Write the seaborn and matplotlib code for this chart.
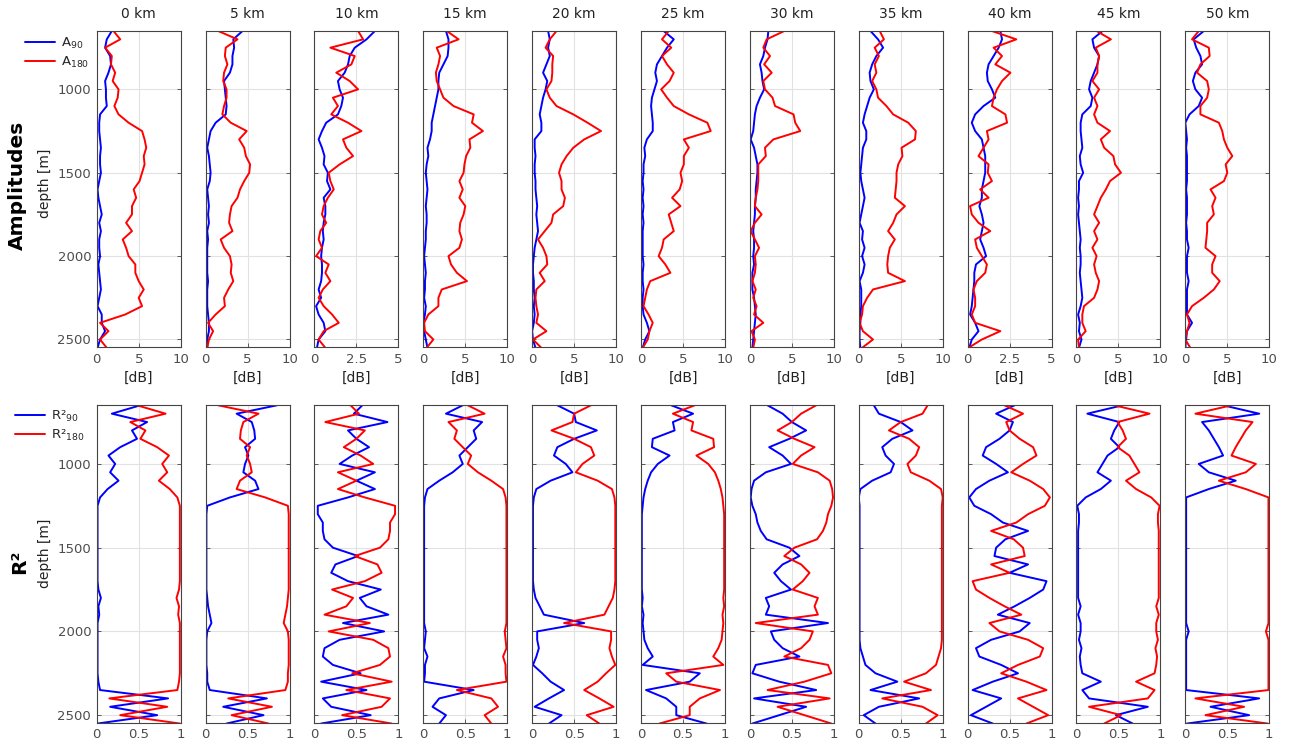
import matplotlib
matplotlib.use("Agg")
import matplotlib.pyplot as plt
import seaborn as sns

DEPTH = [650, 700, 750, 800, 850, 900, 950, 1000, 1050, 1100,
         1150, 1200, 1250, 1300, 1350, 1400, 1450, 1500, 1550, 1600,
         1650, 1700, 1750, 1800, 1850, 1900, 1950, 2000, 2050, 2100,
         2150, 2200, 2250, 2300, 2350, 2400, 2450, 2500, 2550]

PANELS = ["0 km", "5 km", "10 km", "15 km", "20 km", "25 km",
          "30 km", "35 km", "40 km", "45 km", "50 km"]
AMP_XMAX = [10, 10, 5, 10, 10, 10, 10, 10, 5, 10, 10]

# amplitudes [dB]
A90_00 = [1.8, 1.2, 1.0, 1.6, 1.7, 1.4, 1.0, 1.1, 1.1, 1.2, 0.4, 0.3, 0.3, 0.4, 0.5, 0.4, 0.4, 0.5, 0.3, 0.1,
          0.2, 0.4, 0.6, 0.3, 0.5, 0.3, 0.3, 0.4, 0.2, 0.3, 0.4, 0.5, 0.3, 0.1, 0.6, 0.6, 1.0, 0.4, 0.1]
A180_00 = [2.0, 2.8, 1.0, 1.8, 1.7, 2.2, 1.9, 2.6, 2.5, 2.1, 2.6, 3.8, 5.4, 5.7, 5.9, 5.6, 5.7, 5.4, 5.1, 4.4,
           4.7, 4.2, 4.2, 3.5, 4.2, 3.1, 3.5, 3.8, 4.6, 4.6, 5.0, 5.6, 5.0, 5.4, 3.4, 0.4, 1.4, 0.4, 1.2]
A90_05 = [4.4, 3.3, 3.4, 3.2, 3.2, 2.9, 2.2, 2.3, 2.4, 2.5, 2.4, 1.2, 0.6, 0.4, 0.2, 0.4, 0.5, 0.6, 0.5, 0.2,
          0.3, 0.4, 0.3, 0.4, 0.2, 0.3, 0.2, 0.2, 0.2, 0.2, 0.3, 0.2, 0.2, 0.2, 0.3, 0.4, 0.4, 0.2, 0.2]
A180_05 = [1.5, 3.8, 2.4, 2.3, 2.6, 2.2, 2.1, 2.5, 2.5, 2.2, 2.0, 3.0, 4.9, 4.0, 4.6, 4.8, 5.3, 5.2, 4.6, 4.1,
           3.8, 3.1, 2.9, 2.8, 3.2, 1.8, 2.2, 2.9, 3.1, 3.0, 3.3, 2.7, 2.2, 2.3, 1.2, 0.3, 0.9, 0.4, 0.2]
A90_10 = [3.6, 3.1, 2.4, 2.1, 2.0, 1.8, 1.4, 1.5, 1.7, 1.6, 1.4, 0.7, 0.45, 0.25, 0.45, 0.6, 0.55, 0.8, 0.75, 0.95,
          0.55, 0.65, 0.65, 0.55, 0.5, 0.55, 0.45, 0.4, 0.45, 0.45, 0.4, 0.25, 0.4, 0.1, 0.25, 0.55, 0.65, 0.25, 0.15]
A180_10 = [2.6, 2.9, 0.95, 2.4, 2.2, 1.3, 2.1, 2.6, 1.1, 1.4, 1.0, 2.0, 2.8, 1.7, 1.9, 2.3, 1.5, 0.85, 0.95, 1.15,
           0.8, 0.55, 0.45, 0.7, 0.35, 0.25, 0.45, 0.1, 0.85, 0.65, 0.95, 0.5, 0.25, 0.55, 1.05, 1.45, 0.55, 0.25, 0.65]
A90_15 = [2.7, 3.0, 3.0, 2.9, 2.4, 1.9, 1.8, 1.8, 1.6, 1.4, 1.2, 1.0, 1.0, 0.8, 0.5, 0.6, 0.4, 0.3, 0.4, 0.5,
          0.4, 0.3, 0.4, 0.4, 0.3, 0.3, 0.2, 0.1, 0.2, 0.3, 0.2, 0.2, 0.1, 0.3, 0.2, 0.0, 0.1, 0.3, 0.5]
A180_15 = [2.8, 4.2, 1.6, 2.0, 1.8, 1.5, 1.6, 2.0, 2.4, 3.6, 6.0, 5.8, 7.1, 5.5, 5.6, 5.1, 4.9, 4.8, 4.3, 4.7,
           4.3, 5.0, 4.8, 4.4, 4.3, 4.6, 4.3, 3.0, 3.3, 4.0, 5.2, 2.2, 1.8, 1.8, 0.6, 0.1, 0.2, 1.2, 0.4]
A90_20 = [1.9, 2.1, 1.9, 2.1, 1.7, 1.3, 1.8, 1.6, 1.3, 1.1, 0.9, 1.1, 1.1, 0.3, 0.3, 0.4, 0.3, 0.3, 0.4, 0.4,
          0.5, 0.6, 0.5, 0.6, 0.7, 0.5, 0.3, 0.2, 0.1, 0.1, 0.2, 0.2, 0.3, 0.2, 0.3, 0.2, 0.0, 0.1, 0.4]
A180_20 = [2.9, 2.1, 1.6, 2.5, 2.4, 2.4, 2.3, 1.7, 2.1, 2.9, 4.9, 6.6, 8.2, 6.2, 4.9, 4.1, 3.5, 3.2, 3.5, 3.5,
           3.9, 3.7, 2.5, 2.3, 1.5, 0.7, 1.3, 1.7, 1.8, 0.9, 1.5, 0.5, 0.4, 0.5, 0.7, 0.5, 1.7, 0.1, 1.1]
A90_25 = [2.7, 3.9, 3.1, 2.5, 1.9, 1.7, 1.9, 1.6, 1.3, 1.2, 1.3, 1.4, 1.4, 0.7, 0.4, 0.5, 0.3, 0.3, 0.2, 0.3,
          0.2, 0.3, 0.2, 0.3, 0.2, 0.2, 0.2, 0.2, 0.3, 0.2, 0.2, 0.3, 0.2, 0.2, 0.3, 0.7, 1.0, 0.5, 0.2]
A180_25 = [3.3, 2.5, 3.6, 2.5, 3.1, 3.9, 3.4, 2.4, 3.1, 3.9, 5.7, 7.9, 8.3, 5.1, 5.7, 5.1, 5.1, 4.7, 4.9, 4.6,
           3.7, 4.7, 3.3, 3.6, 3.9, 2.7, 2.5, 2.1, 2.9, 3.5, 1.1, 0.7, 0.5, 0.3, 0.9, 1.4, 1.0, 0.8, 0.2]
A90_30 = [2.2, 2.1, 1.8, 1.6, 1.2, 1.4, 1.5, 1.7, 1.2, 0.8, 0.6, 0.5, 0.4, 0.1, 0.5, 0.7, 0.9, 0.9, 0.8, 0.7,
          0.7, 0.6, 0.6, 0.5, 0.4, 0.5, 0.5, 0.4, 0.5, 0.3, 0.3, 0.3, 0.5, 0.6, 0.7, 0.6, 0.5, 0.4, 0.3]
A180_30 = [4.1, 2.0, 1.6, 2.4, 1.7, 2.6, 1.6, 1.8, 2.7, 3.0, 5.2, 5.4, 6.0, 2.8, 1.8, 1.9, 1.0, 1.0, 1.0, 0.9,
           0.7, 0.6, 1.4, 0.6, 0.1, 0.6, 1.1, 0.6, 0.7, 0.6, 0.3, 0.7, 0.4, 0.8, 0.5, 1.6, 0.2, 0.6, 0.4]
A90_35 = [1.4, 2.3, 2.9, 2.1, 1.6, 1.3, 1.4, 1.8, 1.3, 1.0, 0.7, 0.5, 0.9, 0.9, 0.5, 0.4, 0.3, 0.2, 0.3, 0.5,
          0.7, 0.5, 0.3, 0.1, 0.5, 0.4, 0.7, 0.4, 0.7, 0.5, 0.1, 0.3, 0.3, 0.3, 0.2, 0.2, 0.1, 0.1, 0.2]
A180_35 = [2.5, 3.0, 1.9, 2.4, 1.9, 2.1, 1.6, 2.1, 2.3, 3.3, 4.1, 5.9, 6.8, 6.7, 5.1, 5.2, 4.7, 4.5, 4.5, 4.4,
           4.3, 5.5, 4.5, 4.1, 3.5, 4.3, 3.7, 3.5, 3.4, 3.5, 5.5, 1.7, 1.0, 0.5, 0.4, 0.1, 0.5, 1.7, 0.4]
A90_40 = [1.95, 2.05, 1.85, 1.55, 1.25, 1.15, 1.2, 1.45, 1.65, 0.95, 0.45, 0.25, 0.45, 0.85, 0.95, 1.05, 1.05, 1.05, 0.95, 0.85,
          0.85, 0.7, 0.85, 0.95, 0.85, 0.75, 0.95, 1.1, 0.5, 0.4, 0.4, 0.35, 0.3, 0.25, 0.15, 0.45, 0.65, 0.25, 0.1]
A180_40 = [1.45, 2.9, 1.55, 2.05, 1.65, 2.55, 2.05, 1.75, 1.55, 1.45, 2.25, 2.35, 1.15, 1.25, 0.95, 0.65, 1.25, 1.2, 1.45, 0.75,
           1.25, 0.15, 0.25, 0.65, 1.35, 0.45, 0.55, 0.85, 1.15, 1.05, 0.55, 0.35, 0.45, 0.45, 0.25, 0.45, 1.95, 0.85, 0.05]
A90_45 = [3.1, 1.9, 2.1, 2.7, 2.5, 2.1, 1.7, 1.5, 1.9, 1.7, 0.7, 0.5, 0.5, 0.6, 0.7, 0.4, 0.5, 0.8, 0.3, 0.3,
          0.2, 0.3, 0.2, 0.3, 0.4, 0.5, 0.4, 0.5, 0.5, 0.4, 0.5, 0.6, 0.7, 0.5, 0.2, 0.4, 0.3, 0.6, 0.3]
A180_45 = [2.4, 4.1, 2.3, 2.7, 2.5, 2.5, 1.9, 2.7, 2.1, 2.5, 2.1, 2.5, 4.0, 2.9, 3.3, 4.4, 4.6, 5.3, 4.0, 3.5,
           2.9, 2.5, 2.1, 2.7, 2.1, 2.5, 1.9, 2.4, 2.1, 2.3, 2.7, 2.5, 2.1, 0.9, 0.7, 0.7, 1.1, 0.2, 0.3]
A90_50 = [2.2, 1.0, 1.3, 1.8, 2.0, 1.2, 0.9, 1.2, 2.0, 1.6, 0.5, 0.0, 0.1, 0.2, 0.1, 0.2, 0.2, 0.2, 0.2, 0.1,
          0.2, 0.2, 0.2, 0.1, 0.2, 0.2, 0.4, 0.2, 0.2, 0.2, 0.4, 0.2, 0.2, 0.2, 0.2, 0.8, 0.2, 0.1, 0.0]
A180_50 = [1.6, 0.8, 2.8, 2.9, 1.8, 1.4, 2.6, 2.8, 2.6, 1.8, 1.8, 4.0, 4.4, 4.6, 5.0, 5.6, 4.8, 5.0, 4.6, 3.0,
           3.6, 3.2, 3.4, 2.6, 2.6, 2.5, 2.4, 3.6, 3.2, 3.2, 4.1, 3.4, 2.2, 0.8, 0.2, 0.5, 0.2, 0.0, 0.6]

# R^2 values
R90_00 = [0.52, 0.18, 0.60, 0.42, 0.48, 0.28, 0.14, 0.22, 0.16, 0.26, 0.13, 0.04, 0.01, 0.01, 0.01, 0.01, 0.01, 0.01, 0.01, 0.01,
          0.01, 0.01, 0.02, 0.05, 0.02, 0.03, 0.01, 0.01, 0.01, 0.01, 0.01, 0.01, 0.01, 0.02, 0.04, 0.85, 0.16, 0.72, 0.01]
R180_00 = [0.48, 0.82, 0.40, 0.58, 0.52, 0.72, 0.86, 0.78, 0.84, 0.74, 0.87, 0.96, 0.99, 0.99, 0.99, 0.99, 0.99, 0.99, 0.99, 0.99,
           0.99, 0.99, 0.98, 0.95, 0.98, 0.97, 0.99, 0.99, 0.99, 0.99, 0.99, 0.99, 0.99, 0.98, 0.96, 0.15, 0.84, 0.28, 0.99]
R90_05 = [0.85, 0.37, 0.55, 0.58, 0.59, 0.47, 0.51, 0.47, 0.45, 0.59, 0.63, 0.29, 0.02, 0.01, 0.01, 0.01, 0.01, 0.01, 0.01, 0.01,
          0.01, 0.01, 0.01, 0.02, 0.03, 0.05, 0.07, 0.02, 0.01, 0.01, 0.01, 0.01, 0.02, 0.02, 0.05, 0.73, 0.21, 0.69, 0.25]
R180_05 = [0.15, 0.63, 0.45, 0.42, 0.41, 0.53, 0.49, 0.53, 0.55, 0.41, 0.37, 0.71, 0.98, 0.99, 0.99, 0.99, 0.99, 0.99, 0.99, 0.99,
           0.99, 0.99, 0.99, 0.98, 0.97, 0.95, 0.93, 0.98, 0.99, 0.99, 0.99, 0.99, 0.98, 0.98, 0.95, 0.27, 0.79, 0.31, 0.75]
R90_10 = [0.57, 0.47, 0.87, 0.40, 0.50, 0.65, 0.45, 0.30, 0.72, 0.50, 0.72, 0.40, 0.04, 0.04, 0.10, 0.10, 0.12, 0.22, 0.52, 0.25,
          0.20, 0.40, 0.79, 0.54, 0.62, 0.88, 0.34, 0.83, 0.30, 0.12, 0.10, 0.22, 0.55, 0.08, 0.62, 0.10, 0.20, 0.67, 0.08]
R180_10 = [0.43, 0.53, 0.13, 0.60, 0.50, 0.35, 0.55, 0.70, 0.28, 0.50, 0.28, 0.60, 0.96, 0.96, 0.90, 0.90, 0.88, 0.78, 0.48, 0.75,
           0.80, 0.60, 0.21, 0.46, 0.38, 0.12, 0.66, 0.17, 0.70, 0.88, 0.90, 0.78, 0.45, 0.92, 0.38, 0.90, 0.80, 0.33, 0.92]
R90_15 = [0.47, 0.27, 0.70, 0.60, 0.63, 0.53, 0.43, 0.47, 0.35, 0.19, 0.05, 0.02, 0.01, 0.01, 0.01, 0.01, 0.01, 0.01, 0.01, 0.01,
          0.01, 0.01, 0.01, 0.01, 0.01, 0.01, 0.01, 0.03, 0.02, 0.01, 0.05, 0.02, 0.02, 0.01, 0.60, 0.19, 0.11, 0.27, 0.19]
R180_15 = [0.53, 0.73, 0.30, 0.40, 0.37, 0.47, 0.57, 0.53, 0.65, 0.81, 0.95, 0.98, 0.99, 0.99, 0.99, 0.99, 0.99, 0.99, 0.99, 0.99,
           0.99, 0.99, 0.99, 0.99, 0.99, 0.99, 0.99, 0.97, 0.98, 0.99, 0.95, 0.98, 0.98, 0.99, 0.40, 0.81, 0.89, 0.73, 0.81]
R90_20 = [0.30, 0.50, 0.52, 0.77, 0.50, 0.30, 0.26, 0.40, 0.48, 0.22, 0.05, 0.02, 0.01, 0.01, 0.01, 0.01, 0.01, 0.01, 0.01, 0.01,
          0.01, 0.01, 0.02, 0.04, 0.09, 0.14, 0.62, 0.06, 0.06, 0.08, 0.05, 0.01, 0.12, 0.22, 0.38, 0.20, 0.03, 0.35, 0.20]
R180_20 = [0.70, 0.50, 0.48, 0.23, 0.50, 0.70, 0.74, 0.60, 0.52, 0.78, 0.95, 0.98, 0.99, 0.99, 0.99, 0.99, 0.99, 0.99, 0.99, 0.99,
           0.99, 0.99, 0.98, 0.96, 0.91, 0.86, 0.38, 0.94, 0.94, 0.92, 0.95, 0.99, 0.88, 0.78, 0.62, 0.80, 0.97, 0.65, 0.80]
R90_25 = [0.36, 0.62, 0.38, 0.40, 0.14, 0.13, 0.34, 0.20, 0.12, 0.08, 0.05, 0.03, 0.02, 0.01, 0.01, 0.01, 0.01, 0.01, 0.01, 0.01,
          0.01, 0.01, 0.01, 0.02, 0.01, 0.03, 0.02, 0.03, 0.04, 0.08, 0.14, 0.02, 0.70, 0.58, 0.06, 0.30, 0.42, 0.42, 0.78]
R180_25 = [0.64, 0.38, 0.62, 0.60, 0.86, 0.87, 0.66, 0.80, 0.88, 0.92, 0.95, 0.97, 0.98, 0.99, 0.99, 0.99, 0.99, 0.99, 0.99, 0.99,
           0.99, 0.99, 0.99, 0.98, 0.99, 0.97, 0.98, 0.97, 0.96, 0.92, 0.86, 0.98, 0.30, 0.42, 0.94, 0.70, 0.58, 0.58, 0.22]
R90_30 = [0.21, 0.39, 0.50, 0.67, 0.47, 0.23, 0.39, 0.49, 0.19, 0.05, 0.02, 0.01, 0.03, 0.07, 0.09, 0.13, 0.20, 0.47, 0.59, 0.39,
          0.29, 0.37, 0.49, 0.19, 0.23, 0.19, 0.93, 0.25, 0.29, 0.39, 0.59, 0.07, 0.03, 0.35, 0.79, 0.05, 0.67, 0.35, 0.03]
R180_30 = [0.79, 0.61, 0.50, 0.33, 0.53, 0.77, 0.61, 0.51, 0.81, 0.95, 0.98, 0.99, 0.97, 0.93, 0.91, 0.87, 0.80, 0.53, 0.41, 0.61,
           0.71, 0.63, 0.51, 0.81, 0.77, 0.81, 0.07, 0.75, 0.71, 0.61, 0.41, 0.93, 0.97, 0.65, 0.21, 0.95, 0.33, 0.65, 0.97]
R90_35 = [0.18, 0.24, 0.50, 0.64, 0.40, 0.28, 0.32, 0.42, 0.38, 0.16, 0.02, 0.00, 0.01, 0.01, 0.01, 0.01, 0.01, 0.01, 0.01, 0.01,
          0.01, 0.01, 0.01, 0.01, 0.01, 0.01, 0.01, 0.01, 0.01, 0.02, 0.05, 0.08, 0.20, 0.46, 0.14, 0.72, 0.24, 0.06, 0.20]
R180_35 = [0.82, 0.76, 0.50, 0.36, 0.60, 0.72, 0.68, 0.58, 0.62, 0.84, 0.98, 1.00, 0.99, 0.99, 0.99, 0.99, 0.99, 0.99, 0.99, 0.99,
           0.99, 0.99, 0.99, 0.99, 0.99, 0.99, 0.99, 0.99, 0.99, 0.98, 0.95, 0.92, 0.80, 0.54, 0.86, 0.28, 0.76, 0.94, 0.80]
R90_40 = [0.56, 0.34, 0.54, 0.50, 0.38, 0.22, 0.18, 0.34, 0.48, 0.26, 0.10, 0.02, 0.08, 0.28, 0.42, 0.72, 0.45, 0.34, 0.32, 0.72,
          0.50, 0.94, 0.90, 0.74, 0.56, 0.36, 0.74, 0.62, 0.28, 0.10, 0.14, 0.40, 0.60, 0.30, 0.06, 0.40, 0.22, 0.04, 0.30]
R180_40 = [0.44, 0.66, 0.46, 0.50, 0.62, 0.78, 0.82, 0.66, 0.52, 0.74, 0.90, 0.98, 0.92, 0.72, 0.58, 0.28, 0.55, 0.66, 0.68, 0.28,
           0.50, 0.06, 0.10, 0.26, 0.44, 0.64, 0.26, 0.38, 0.72, 0.90, 0.86, 0.60, 0.40, 0.70, 0.94, 0.60, 0.78, 0.96, 0.70]
R90_45 = [0.55, 0.13, 0.51, 0.45, 0.41, 0.51, 0.37, 0.31, 0.25, 0.41, 0.29, 0.11, 0.01, 0.03, 0.03, 0.02, 0.02, 0.02, 0.02, 0.02,
          0.02, 0.02, 0.02, 0.02, 0.05, 0.02, 0.05, 0.05, 0.03, 0.06, 0.04, 0.05, 0.07, 0.29, 0.07, 0.15, 0.85, 0.47, 0.67]
R180_45 = [0.45, 0.87, 0.49, 0.55, 0.59, 0.49, 0.63, 0.69, 0.75, 0.59, 0.71, 0.89, 0.99, 0.97, 0.97, 0.98, 0.98, 0.98, 0.98, 0.98,
           0.98, 0.98, 0.98, 0.98, 0.95, 0.98, 0.95, 0.95, 0.97, 0.94, 0.96, 0.95, 0.93, 0.71, 0.93, 0.85, 0.15, 0.53, 0.33]
R90_50 = [0.45, 0.88, 0.20, 0.28, 0.34, 0.40, 0.45, 0.16, 0.28, 0.60, 0.28, 0.01, 0.01, 0.01, 0.01, 0.01, 0.01, 0.01, 0.01, 0.01,
          0.01, 0.01, 0.01, 0.01, 0.01, 0.01, 0.01, 0.04, 0.01, 0.01, 0.01, 0.01, 0.01, 0.01, 0.01, 0.88, 0.30, 0.76, 0.02]
R180_50 = [0.55, 0.12, 0.80, 0.72, 0.66, 0.60, 0.55, 0.84, 0.72, 0.40, 0.72, 0.99, 0.99, 0.99, 0.99, 0.99, 0.99, 0.99, 0.99, 0.99,
           0.99, 0.99, 0.99, 0.99, 0.99, 0.99, 0.99, 0.96, 0.99, 0.99, 0.99, 0.99, 0.99, 0.99, 0.99, 0.12, 0.70, 0.24, 0.98]

A90 = [A90_00, A90_05, A90_10, A90_15, A90_20, A90_25, A90_30, A90_35, A90_40, A90_45, A90_50]
A180 = [A180_00, A180_05, A180_10, A180_15, A180_20, A180_25, A180_30, A180_35, A180_40, A180_45, A180_50]
R90 = [R90_00, R90_05, R90_10, R90_15, R90_20, R90_25, R90_30, R90_35, R90_40, R90_45, R90_50]
R180 = [R180_00, R180_05, R180_10, R180_15, R180_20, R180_25, R180_30, R180_35, R180_40, R180_45, R180_50]

BLUE = "#0000ff"
RED = "#ff0000"
W_PX, H_PX = 1292, 746

sns.set_theme(style="white")
plt.rcParams["font.family"] = ["DejaVu Sans"]


def style_axis(ax, xmax, xticks, xlabels, first):
    ax.set_xlim(0, xmax)
    ax.set_ylim(2545, 650)
    ax.set_xticks(xticks)
    ax.set_xticklabels(xlabels)
    ax.set_yticks([1000, 1500, 2000, 2500])
    if not first:
        ax.set_yticklabels([])
    ax.grid(True, color="#e2e2e2", lw=0.8)
    ax.set_axisbelow(True)
    for s in ax.spines.values():
        s.set_color("#444444")
        s.set_linewidth(0.8)
    ax.tick_params(direction="in", length=3, width=0.6, color="#444444",
                   labelcolor="#4d4d4d", labelsize=9.5, left=True, right=True,
                   bottom=True, pad=4)
    ax.set_xlabel("")
    ax.set_ylabel("")


def draw_pair(ax, v90, v180, lab90, lab180):
    sns.lineplot(x=v90, y=DEPTH, orient="y", sort=False, estimator=None,
                 color=BLUE, lw=1.4, ax=ax, label=lab90, legend=False)
    sns.lineplot(x=v180, y=DEPTH, orient="y", sort=False, estimator=None,
                 color=RED, lw=1.4, ax=ax, label=lab180, legend=False)


fig = plt.figure(figsize=(W_PX / 100, H_PX / 100), dpi=100)
width = 84 / W_PX
top_row = [None] * len(PANELS)
bot_row = [None] * len(PANELS)

for i, name in enumerate(PANELS):
    left = (96.7 + i * 108.86) / W_PX

    # ── amplitudes ──
    ax = fig.add_axes([left, 1 - 347 / H_PX, width, 316 / H_PX])
    draw_pair(ax, A90[i], A180[i], r"A$_{90}$", r"A$_{180}$")
    if AMP_XMAX[i] == 5:
        style_axis(ax, 5, [0, 2.5, 5], ["0", "2.5", "5"], i == 0)
    else:
        style_axis(ax, 10, [0, 5, 10], ["0", "5", "10"], i == 0)
    ax.set_title(name, fontsize=10, color="#222222", pad=9)
    ax.set_xlabel("[dB]", fontsize=10, color="#222222", labelpad=4)
    top_row[i] = ax

    # ── R^2 ──
    ax = fig.add_axes([left, 1 - 722.7 / H_PX, width, 317.4 / H_PX])
    draw_pair(ax, R90[i], R180[i], "R²$_{90}$", "R²$_{180}$")
    style_axis(ax, 1, [0, 0.5, 1], ["0", "0.5", "1"], i == 0)
    bot_row[i] = ax

# row labels
fig.text(17 / W_PX, 1 - 185 / H_PX, "Amplitudes", rotation=90, fontsize=14.5,
         fontweight="bold", ha="center", va="center", color="black")
fig.text(45 / W_PX, 1 - 183 / H_PX, "depth [m]", rotation=90, fontsize=10,
         ha="center", va="center", color="#222222")
fig.text(20 / W_PX, 1 - 562 / H_PX, "R²", rotation=90, fontsize=14.5,
         fontweight="bold", ha="center", va="center", color="black")
fig.text(45 / W_PX, 1 - 553 / H_PX, "depth [m]", rotation=90, fontsize=10,
         ha="center", va="center", color="#222222")

# legends, to the left of the first column
h, l = top_row[0].get_legend_handles_labels()
fig.legend(h, l, loc="upper left", bbox_to_anchor=(25 / W_PX, 1 - 36 / H_PX),
           frameon=False, fontsize=9.5, handlelength=2.3, handletextpad=0.4,
           labelspacing=0.3, borderaxespad=0, borderpad=0)
h, l = bot_row[0].get_legend_handles_labels()
fig.legend(h, l, loc="upper left", bbox_to_anchor=(15 / W_PX, 1 - 409 / H_PX),
           frameon=False, fontsize=9.5, handlelength=2.3, handletextpad=0.4,
           labelspacing=0.3, borderaxespad=0, borderpad=0)

fig.savefig("out.png", dpi=100)
